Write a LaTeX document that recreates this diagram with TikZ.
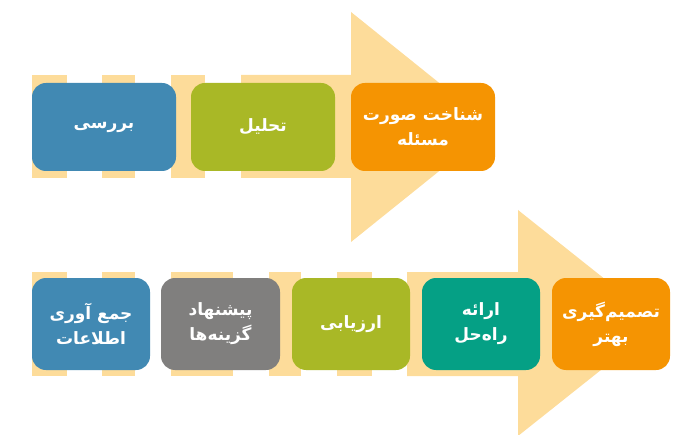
\documentclass[tikz,border=0pt]{standalone}
\usepackage{fontspec}
\newfontfamily\arabicfont[Script=Arabic]{DejaVu Sans}
\TeXXeTstate=1
\usetikzlibrary{positioning}
\definecolor{peach}{HTML}{FDDC9A}
\definecolor{stepblue}{HTML}{4189B3}
\definecolor{stepgreen}{HTML}{A9B826}
\definecolor{steporange}{HTML}{F59402}
\definecolor{stepgrey}{HTML}{807F7E}
\definecolor{stepteal}{HTML}{05A085}
\begin{document}
\begin{tikzpicture}
    [%
        x=1pt,y=-1pt,%
        stepbox/.style={%
            rounded corners=14pt,%
            minimum height=88pt,%
            text=white,%
            align=center,%
            font=\arabicfont\bfseries\fontsize{17}{25}\selectfont,%
            inner sep=0pt%
        }%
    ]%
    \useasboundingbox (0,0) rectangle (700,435);
%
    % upper arrow: stripes, shaft and head
    \foreach \xa/\xb in {32/67,102/135,171/205} {
        \fill[peach] (\xa,75) rectangle (\xb,178);
    } % \foreach \xa/\xb
    \fill[peach] (241,75) -- (351,75) -- (351,12) -- (494,127)
        -- (351,242) -- (351,178) -- (241,178) -- cycle;
    % lower arrow
    \foreach \xa/\xb in {32/67,102/135,171/233,269/301,337/372} {
        \fill[peach] (\xa,272) rectangle (\xb,376);
    } % \foreach \xa/\xb
    \fill[peach] (407,272) -- (518,272) -- (518,210) -- (660,323)
        -- (518,436) -- (518,376) -- (407,376) -- cycle;
%
    % upper steps
    \foreach \name/\col/\xa/\xb/\txt in {%
        review/stepblue/32/176/{\beginR بررسی\endR},%
        analysis/stepgreen/191/335/{\beginR تحلیل\endR},%
        define/steporange/351/495/{\beginR شناخت صورت\endR\\\beginR مسئله\endR}%
    }{
        \node[stepbox,fill=\col,minimum width=\xb-\xa] (\name)
            at ({(\xa+\xb)/2},127) {\txt};
    } % \foreach \name
    % lower steps
    \foreach \name/\col/\xa/\xb/\txt in {%
        gather/stepblue/32/150/{\beginR جمع آوری\endR\\\beginR اطلاعات\endR},%
        propose/stepgrey/161/280/{\beginR پیشنهاد\endR\\\beginR گزینه‌ها\endR},%
        evaluate/stepgreen/292/410/{\beginR ارزیابی\endR},%
        solution/stepteal/422/540/{\beginR ارائه\endR\\\beginR راه‌حل\endR},%
        decide/steporange/552/670/{\beginR تصمیم‌گیری\endR\\\beginR بهتر\endR}%
    }{
        \node[stepbox,fill=\col,minimum width=\xb-\xa,minimum height=92pt] (\name)
            at ({(\xa+\xb)/2},324) {\txt};
    } % \foreach \name
\end{tikzpicture}
\end{document}
